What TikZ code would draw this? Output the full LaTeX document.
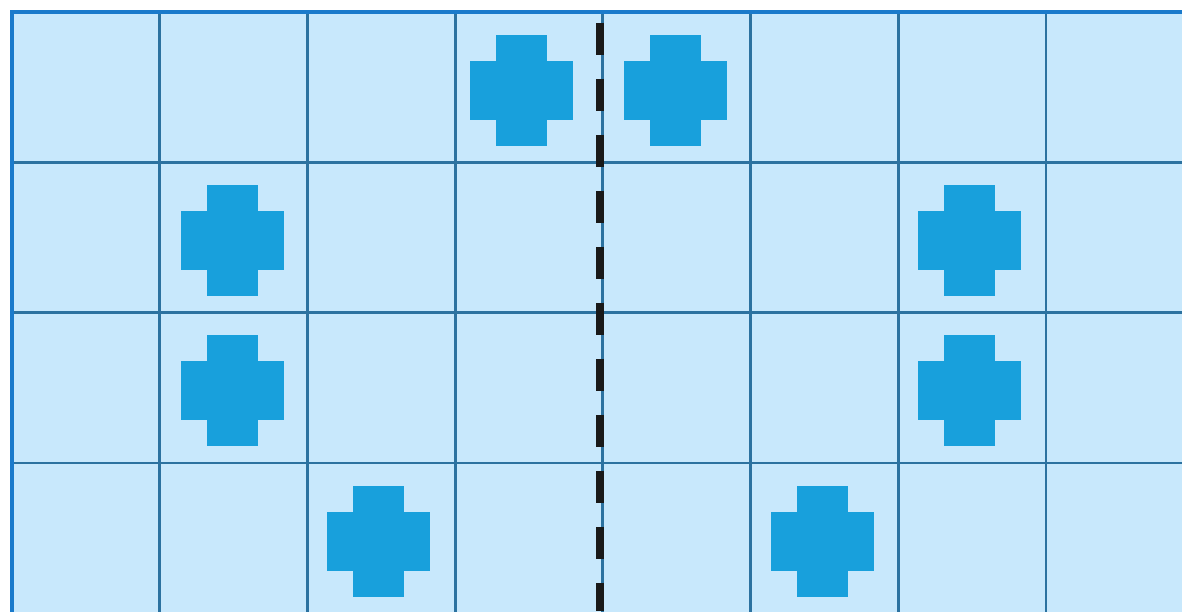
\documentclass[tikz,border=0pt]{standalone}
\usepackage{xcolor}
\usepackage{tikz}
\usetikzlibrary{positioning, calc}
\definecolor{cellfill}{HTML}{C8E8FC}
\definecolor{gridline}{HTML}{2C72A0}
\definecolor{gridborder}{HTML}{1A7ACB}
\definecolor{crossblue}{HTML}{18A0DC}

\begin{document}
\begin{tikzpicture}[x=1pt, y=-1pt,
    gridln/.style={draw=gridline, line width=2.8pt},
    outerln/.style={draw=gridborder, line width=4.5pt},
    crosstile/.style={fill=crossblue},
    mirror/.style={draw=black!90, line width=8pt, dash pattern=on 32pt off 24pt}]
    \useasboundingbox (0,0) rectangle (1182,611);
    \fill[white] (0,0) rectangle (1182,611);

    % board
    \begin{scope}
        \clip (0,0) rectangle (1182,611);
        \fill[cellfill] (12,12) rectangle (1200,620);
        \foreach \i in {1,...,7}
            \draw[gridln] ({12+147.7*\i},12) -- ({12+147.7*\i},620);
        \foreach \j in {1,2,3}
            \draw[gridln] (12,{12+150.3*\j}) -- (1200,{12+150.3*\j});
        \draw[outerln] (12,620) -- (12,12) -- (1200,12);
    \end{scope}

    % crosses (column/row/nudge)
    \foreach \c/\r/\d in {3/0/-6, 4/0/0, 1/1/0, 6/1/-1.5, 1/2/0, 6/2/-1.5, 2/3/-1, 5/3/0} {
        \coordinate (m) at ({12+147.7*(\c+0.5)-1.5+\d},{12+150.3*(\r+0.5)+3});
        \fill[crosstile] ($(m)+(-51.5,-29.5)$) rectangle ($(m)+(51.5,29.5)$);
        \fill[crosstile] ($(m)+(-25.5,-55.5)$) rectangle ($(m)+(25.5,55.5)$);
    }

    % mirror line
    \coordinate (axtop) at (600,22.7);
    \coordinate (axbot) at (600,611);
    \draw[mirror] (axtop) -- (axbot);
\end{tikzpicture}
\end{document}
